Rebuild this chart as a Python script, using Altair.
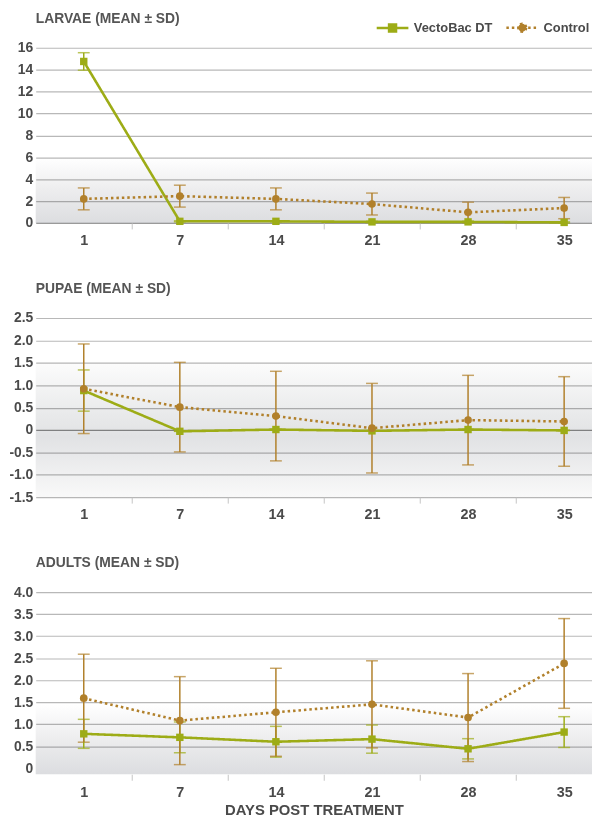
import json
import math
import altair as alt
import pandas as pd

# ---------------- data ----------------
days = [1, 7, 14, 21, 28, 35]
series_names = ["VectoBac DT", "Control"]
series_colors = ["#9dac16", "#b1802b"]

larvae_vecto = [14.75, 0.15, 0.15, 0.1, 0.1, 0.05]
larvae_vecto_sd = [0.8, 0.05, 0.05, 0.05, 0.05, 0.05]
larvae_ctrl = [2.2, 2.45, 2.2, 1.73, 0.97, 1.36]
larvae_ctrl_sd = [1.0, 1.0, 1.0, 1.0, 0.93, 0.97]

pupae_vecto = [0.88, -0.03, 0.01, -0.02, 0.01, -0.01]
pupae_vecto_sd = [0.46, 0.0, 0.0, 0.0, 0.0, 0.0]
pupae_ctrl = [0.92, 0.51, 0.31, 0.04, 0.22, 0.19]
pupae_ctrl_sd = [1.0, 1.0, 1.0, 1.0, 1.0, 1.0]

adults_vecto = [0.78, 0.70, 0.60, 0.66, 0.44, 0.82]
adults_vecto_sd = [0.33, 0.35, 0.35, 0.32, 0.23, 0.35]
adults_ctrl = [1.59, 1.08, 1.27, 1.45, 1.15, 2.38]
adults_ctrl_sd = [1.0, 1.0, 1.0, 0.99, 1.0, 1.02]

panel_titles = ["LARVAE (MEAN \u00b1 SD)", "PUPAE (MEAN \u00b1 SD)", "ADULTS (MEAN \u00b1 SD)"]
larvae_ticks = [0, 2, 4, 6, 8, 10, 12, 14, 16]
pupae_ticks = [-1.5, -1.0, -0.5, 0, 0.5, 1.0, 1.5, 2.0, 2.5]
adults_ticks = [0, 0.5, 1.0, 1.5, 2.0, 2.5, 3.0, 3.5, 4.0]
y_domains = [[0, 16], [-1.5, 2.5], [-0.14, 4.0]]
band_top = [6.0, 1.5, 1.45]
band_bottom = [0.0, -1.5, -0.14]
x_title = "DAYS POST TREATMENT"

FONT = "Liberation Sans"
TEXT = "#4a4a4a"
W = 562
heights = [177, 181, 184]

# legend symbols: a line segment with the marker in the middle
_circ = "".join(("M" if i == 0 else "L") +
                "%.3f,%.3f" % (0.5 * math.cos(2 * math.pi * i / 16), 0.5 * math.sin(2 * math.pi * i / 16))
                for i in range(16)) + "Z"
legend_paths = ["M-2,0H2M-0.44,-0.44H0.44V0.44H-0.44Z", "M-2,0H2" + _circ]


def make_df(vecto, vecto_sd, ctrl, ctrl_sd):
    rows = []
    for name, means, sds in [(series_names[0], vecto, vecto_sd), (series_names[1], ctrl, ctrl_sd)]:
        for i, (d, m, s) in enumerate(zip(days, means, sds)):
            rows.append({"idx": i, "day": d, "series": name, "mean": m, "lo": m - s, "hi": m + s})
    return pd.DataFrame(rows)


color_scale = alt.Scale(domain=series_names, range=series_colors)
dash_scale = alt.Scale(domain=series_names, range=[[1, 0], [2.5, 3]])
legend_shape_scale = alt.Scale(domain=series_names, range=legend_paths)
x_scale = alt.Scale(domain=[-0.5, 5.29], nice=False, zero=False)

tick_vals = [i / 2 for i in range(0, 2 * len(days) - 1)]
label_expr = ("datum.value % 1 === 0 ? " + json.dumps([str(d) for d in days]) +
              "[datum.value] : ''")


def x_axis(with_title):
    kw = dict(values=tick_vals, labelExpr=label_expr, grid=False, domain=False,
              tickColor={"condition": {"test": "datum.value % 1 === 0", "value": "transparent"},
                         "value": "#c4c4c4"},
              tickSize=6, tickWidth=1, labelPadding=5, labelFont=FONT, labelFontSize=14.5,
              labelFontWeight="bold", labelColor=TEXT, labelOverlap=False, labelFlush=False)
    if with_title:
        kw.update(title=x_title, titleFont=FONT, titleFontSize=15, titleFontWeight="bold",
                  titleColor=TEXT, titlePadding=4)
    else:
        kw.update(title=None)
    return alt.Axis(**kw)


legend = alt.Legend(
    orient="none", legendX=351, legendY=-30, direction="horizontal", title=None,
    labelFont=FONT, labelFontSize=13, labelFontWeight="bold", labelColor=TEXT,
    symbolSize=256, symbolStrokeWidth=2.5, symbolOpacity=1, labelOffset=12, columnPadding=8,
)


def panel(k, df, ticks, fmt_expr, zero_color, stops, with_title, with_legend):
    y_scale = alt.Scale(domain=y_domains[k], nice=False, zero=False)
    y_axis = alt.Axis(values=ticks, labelExpr=fmt_expr, grid=True, domain=False, ticks=False,
                      gridColor={"condition": {"test": "datum.value === 0", "value": zero_color},
                                 "value": "#b8b8b8"},
                      gridWidth=1.2, labelPadding=3, labelFont=FONT, labelFontSize=14,
                      labelFontWeight="bold", labelColor=TEXT, title=None)
    xa = x_axis(with_title)
    X = alt.X("idx:Q", scale=x_scale, axis=xa)
    bgdf = pd.DataFrame({"top": [band_top[k]], "bottom": [band_bottom[k]]})
    grad = alt.LinearGradient(gradient="linear", x1=0, x2=0, y1=0, y2=1,
                              stops=[alt.GradientStop(color=c, offset=o) for o, c in stops])
    bg = alt.Chart(bgdf).mark_rect(fill=grad, blend="multiply").encode(
        x=alt.value(0), x2=alt.value("width"),
        y=alt.Y("top:Q", scale=y_scale, axis=y_axis), y2="bottom:Q")
    base = alt.Chart(df)
    col = alt.Color("series:N", scale=color_scale, legend=legend)
    err = base.mark_errorbar(ticks=True, size=12, thickness=1.5).encode(
        x=X, y=alt.Y("lo:Q", scale=y_scale, axis=y_axis), y2="hi:Q", color=col)
    line = base.mark_line(strokeWidth=2.6).encode(
        x=X, y=alt.Y("mean:Q", scale=y_scale, axis=y_axis), color=col,
        strokeDash=alt.StrokeDash("series:N", scale=dash_scale, legend=legend),
        order=alt.Order("idx:Q"))
    sq = base.transform_filter(alt.datum.series == series_names[0]).mark_point(
        filled=True, opacity=1, size=56, shape="square").encode(
        x=X, y=alt.Y("mean:Q", scale=y_scale, axis=y_axis), color=col)
    ci = base.transform_filter(alt.datum.series == series_names[1]).mark_point(
        filled=True, opacity=1, size=60, shape="circle").encode(
        x=X, y=alt.Y("mean:Q", scale=y_scale, axis=y_axis), color=col)
    layers = [bg, err, line, sq, ci]
    if with_legend:
        leg = base.mark_point(opacity=1, size=0, strokeWidth=2.5).encode(
            x=X, y=alt.Y("mean:Q", scale=y_scale, axis=y_axis),
            shape=alt.Shape("series:N", scale=legend_shape_scale, legend=legend),
            fill=alt.Fill("series:N", scale=color_scale, legend=legend),
            stroke=alt.Stroke("series:N", scale=color_scale, legend=legend),
            strokeDash=alt.StrokeDash("series:N", scale=dash_scale, legend=legend))
        layers.append(leg)
    return alt.layer(*layers).properties(
        width=W, height=heights[k],
        title=alt.TitleParams(panel_titles[k], anchor="start", frame="group", font=FONT,
                              fontSize=14, fontWeight="bold", color="#555555", offset=15))


int_fmt = "format(datum.value, 'd')"
dec_fmt = "datum.value === 0 ? '0' : replace(format(datum.value, '.1f'), '\u2212', '-')"

stops_plain = [(0, "#ffffff"), (0.5, "#ededee"), (1, "#dcdde0")]
stops_pupae = [(0, "#fcfcfc"), (0.4, "#e8e9ea"), (0.55, "#e1e2e4"), (1, "#f9f9f9")]

p1 = panel(0, make_df(larvae_vecto, larvae_vecto_sd, larvae_ctrl, larvae_ctrl_sd),
           larvae_ticks, int_fmt, "#9a9a9a", stops_plain, False, True)
p2 = panel(1, make_df(pupae_vecto, pupae_vecto_sd, pupae_ctrl, pupae_ctrl_sd),
           pupae_ticks, dec_fmt, "#8f8f8f", stops_pupae, False, False)
p3 = panel(2, make_df(adults_vecto, adults_vecto_sd, adults_ctrl, adults_ctrl_sd),
           adults_ticks, dec_fmt, "transparent", stops_plain, True, False)

chart = alt.vconcat(p1, p2, p3, spacing=35).properties(
    padding={"left": 0, "top": 0, "right": 0, "bottom": 0}
).configure_view(stroke=None)

chart.save("out.html", embed_options={"renderer": "svg", "actions": False})
